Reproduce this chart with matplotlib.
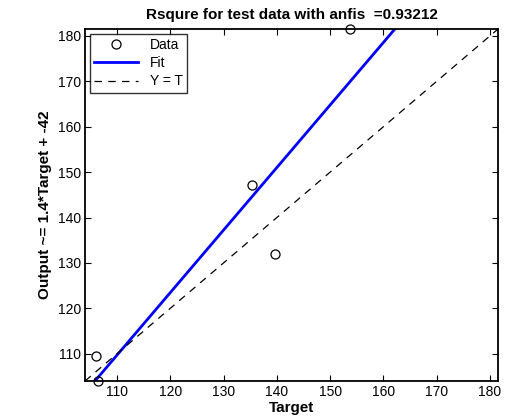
import matplotlib.pyplot as plt
import numpy as np

plt.rcParams['font.family'] = ['Liberation Sans', 'DejaVu Sans']

# test data
target = np.array([106.5, 106.0, 135.3, 139.7, 153.8])
output = np.array([104.0, 109.5, 147.2, 132.0, 181.5])
xticks = [110, 120, 130, 140, 150, 160, 170, 180]
yticks = [110, 120, 130, 140, 150, 160, 170, 180]
rsq_text = '0.93212'

lo = min(target.min(), output.min())
hi = max(target.max(), output.max())

slope, intercept = np.polyfit(target, output, 1)

fig = plt.figure(figsize=(5.07, 4.19), dpi=100)
ax = fig.add_axes([0.1677, 0.0907, 0.8146, 0.840])

xs = np.array([lo, hi])
ax.plot(target, output, 'o', mfc='none', mec='black', ms=6.5, mew=0.9,
        label='Data', clip_on=False, zorder=3)
ax.plot(xs, slope * xs + intercept, color='#0000ff', lw=2, label='Fit')
ax.plot(xs, xs, '--', color='black', lw=0.9, dashes=(6, 5), label='Y = T')

ax.set_xlim(lo, hi)
ax.set_ylim(lo, hi)
ax.set_xticks(xticks)
ax.set_yticks(yticks)
ax.tick_params(direction='in', top=True, right=True, length=4, width=0.8,
               labelsize=10, pad=3)
for s in ax.spines.values():
    s.set_linewidth(1.3)

ax.set_xlabel('Target', fontsize=11, fontweight='bold', labelpad=1)
ax.set_ylabel('Output ~= %.1f*Target + %.0f' % (slope, intercept),
              fontsize=11, fontweight='bold', labelpad=4)
ax.set_title('Rsqure for test data with anfis  =' + rsq_text,
             fontsize=11, fontweight='bold', pad=7)

leg = ax.legend(loc='upper left', fontsize=10, frameon=True, fancybox=False,
                edgecolor='black', borderaxespad=0.35, handlelength=3.2,
                borderpad=0.3, labelspacing=0.3)
leg.get_frame().set_linewidth(1.0)

fig.savefig('out.png', dpi=100)
